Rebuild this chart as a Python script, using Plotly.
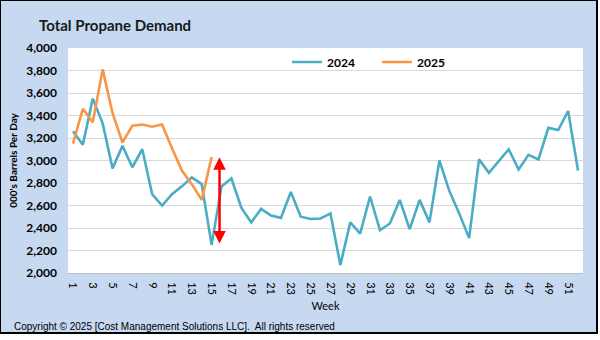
import plotly.graph_objects as go

weeks = list(range(1, 53))
demand_2024 = [3260, 3140, 3550, 3330, 2930, 3130, 2940, 3100, 2700, 2600,
               2700, 2770, 2850, 2790, 2250, 2770, 2840, 2580, 2450, 2570,
               2510, 2490, 2720, 2500, 2480, 2485, 2530, 2070, 2450, 2350,
               2680, 2380, 2440, 2650, 2390, 2650, 2450, 3000, 2730, 2530,
               2310, 3010, 2890, 3000, 3100, 2920, 3050, 3010, 3290, 3270,
               3440, 2910]
weeks_2025 = list(range(1, 16))
demand_2025 = [3150, 3460, 3340, 3810, 3420, 3160, 3310, 3320, 3300, 3320,
               3110, 2910, 2790, 2650, 3030]
tick_weeks = list(range(1, 52, 2))
y_ticks = list(range(2000, 4001, 200))

BLUE = "#4BACC6"
ORANGE = "#F79646"
FONT = "Lato"

fig = go.Figure()
fig.add_trace(go.Scatter(x=weeks, y=demand_2024, mode="lines", name="2024",
                         line=dict(color=BLUE, width=2.6)))
fig.add_trace(go.Scatter(x=weeks_2025, y=demand_2025, mode="lines", name="2025",
                         line=dict(color=ORANGE, width=2.6)))

# background panel with black border
fig.add_shape(type="rect", xref="paper", yref="paper",
              x0=-68/515, x1=(597-68)/515, y0=-(333-273)/225, y1=1+48/225,
              fillcolor="#C6D9F0", line=dict(color="black", width=2), layer="below")
fig.add_shape(type="rect", xref="x domain", yref="y domain", x0=0, x1=1, y0=0, y1=1,
              fillcolor="white", line=dict(width=0), layer="below")

# red double arrow between 2025 and 2024 at latest week
w = weeks_2025[-1]
fig.add_annotation(x=w + 0.8, y=demand_2025[-1], ax=w + 0.8, ay=demand_2024[w - 1],
                   xref="x", yref="y", axref="x", ayref="y", text="",
                   showarrow=True, arrowhead=2, arrowside="end+start",
                   arrowsize=1, arrowwidth=2.5, arrowcolor="#FF0000")

fig.add_annotation(text="<b>Total Propane Demand</b>", xref="paper", yref="paper",
                   x=(37-68)/515, y=1+(48-25)/225, xanchor="left", yanchor="middle",
                   showarrow=False, font=dict(family=FONT, size=15, color="#1a1a1a"))
fig.add_annotation(text="Copyright © 2025 [Cost Management Solutions LLC].  All rights reserved",
                   xref="paper", yref="paper", x=(12-68)/515, y=-(326-273)/225,
                   xanchor="left", yanchor="middle", showarrow=False,
                   font=dict(family="Liberation Sans", size=10, color="black"))

fig.update_layout(
    width=600, height=340,
    margin=dict(l=68, r=17, t=48, b=67),
    paper_bgcolor="white", plot_bgcolor="rgba(0,0,0,0)",
    showlegend=True,
    legend=dict(orientation="h", x=(287-68)/515, y=(273-62)/225, xanchor="left",
                yanchor="middle", bgcolor="rgba(0,0,0,0)", entrywidth=45,
                entrywidthmode="pixels", font=dict(family=FONT, size=12, color="black",
                                                  weight="bold")),
    font=dict(family=FONT, color="black"),
)
fig.update_xaxes(range=[0.5, 52.5], tickmode="array", tickvals=tick_weeks,
                 ticktext=[str(t) for t in tick_weeks], tickangle=90,
                 tickfont=dict(family=FONT, size=11, color="black"),
                 showgrid=False, zeroline=False, showline=True, linecolor="#BFBFBF",
                 ticks="", ticklabelstandoff=6,
                 title=dict(text="Week", font=dict(family=FONT, size=11, color="black"),
                            standoff=8))
fig.update_yaxes(range=[2000, 4000], tickmode="array", tickvals=y_ticks,
                 ticktext=[f"{v:,}" for v in y_ticks],
                 tickfont=dict(family=FONT, size=12, color="black", weight="bold"),
                 showgrid=True, gridcolor="#D9D9D9", gridwidth=1, zeroline=False,
                 ticks="", ticklabelstandoff=10,
                 title=dict(text="000's Barrels Per Day",
                            font=dict(family=FONT, size=10, color="black", weight="bold"),
                            standoff=6))

fig.write_html("out.html")
